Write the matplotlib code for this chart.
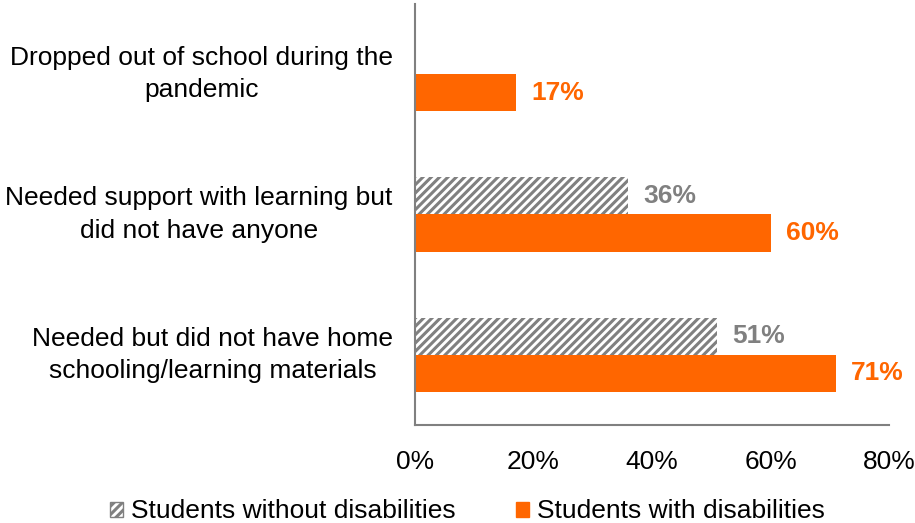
import matplotlib
matplotlib.use('Agg')
import matplotlib.pyplot as plt
import matplotlib.patches as mpatches
import numpy as np

plt.rcParams['font.family'] = ['Liberation Sans', 'DejaVu Sans']
plt.rcParams['hatch.linewidth'] = 2.2

categories = ['Dropped out of school during the\npandemic',
              'Needed support with learning but\ndid not have anyone',
              'Needed but did not have home\nschooling/learning materials']
without_dis = [None, 36, 51]
with_dis = [17, 60, 71]
series_names = ['Students without disabilities', 'Students with disabilities']
xticks = [0, 20, 40, 60, 80]

orange = '#FF6600'
grey = '#808080'
fs = 19

fig = plt.figure(figsize=(9.15, 5.23), dpi=100)
ax = fig.add_axes([0.4536, 0.1874, 0.518, 0.805])

y = np.arange(len(categories))
h = 0.264

for i, v in enumerate(without_dis):
    if v is None:
        continue
    ax.barh(y[i] - h / 2, v, h, color='white', edgecolor=grey, hatch='////', linewidth=0)
    ax.annotate('{}%'.format(v), xy=(v, y[i] - h / 2), xytext=(11, 0),
                textcoords='offset points', ha='left', va='center',
                fontsize=fs, fontweight='bold', color=grey)

for i, v in enumerate(with_dis):
    ax.barh(y[i] + h / 2, v, h, color=orange, linewidth=0)
    ax.annotate('{}%'.format(v), xy=(v, y[i] + h / 2), xytext=(11, 0),
                textcoords='offset points', ha='left', va='center',
                fontsize=fs, fontweight='bold', color=orange)

ax.set_xlim(0, 80)
ax.set_ylim(2.5, -0.5)
ax.set_xticks(xticks)
ax.set_xticklabels(['{}%'.format(t) for t in xticks], fontsize=fs)
ax.set_yticks(y)
ax.set_yticklabels(categories, fontsize=fs, multialignment='center',
                   linespacing=1.45, va='center')
ax.tick_params(axis='x', length=0, pad=18)
ax.tick_params(axis='y', length=0, pad=16)

for s in ['top', 'right']:
    ax.spines[s].set_visible(False)
for s in ['left', 'bottom']:
    ax.spines[s].set_color(grey)
    ax.spines[s].set_linewidth(1.5)

handles = [mpatches.Patch(facecolor='white', edgecolor=grey, hatch='////', linewidth=1.0),
           mpatches.Patch(facecolor=orange, edgecolor=orange)]
fig.legend(handles, series_names, loc='center', bbox_to_anchor=(0.511, 0.022),
           ncol=2, frameon=False, fontsize=fs, handlelength=0.5, handleheight=0.5,
           handletextpad=0.3, columnspacing=2.3, borderpad=0.1)

plt.savefig('out.png', dpi=100)
